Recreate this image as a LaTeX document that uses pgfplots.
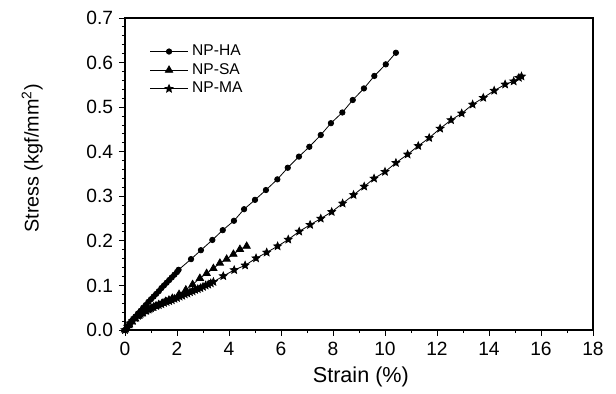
\documentclass[border=0pt]{standalone}
\usepackage{fontspec}
\setmainfont{Liberation Sans}
\usepackage{pgfplots}
\pgfplotsset{compat=1.18}
\pgfdeclareplotmark{fstar}{%
  \pgfpathmoveto{\pgfpointpolar{90}{\pgfplotmarksize}}%
  \pgfpathlineto{\pgfpointpolar{126}{0.45\pgfplotmarksize}}%
  \pgfpathlineto{\pgfpointpolar{162}{\pgfplotmarksize}}%
  \pgfpathlineto{\pgfpointpolar{198}{0.45\pgfplotmarksize}}%
  \pgfpathlineto{\pgfpointpolar{234}{\pgfplotmarksize}}%
  \pgfpathlineto{\pgfpointpolar{270}{0.45\pgfplotmarksize}}%
  \pgfpathlineto{\pgfpointpolar{306}{\pgfplotmarksize}}%
  \pgfpathlineto{\pgfpointpolar{342}{0.45\pgfplotmarksize}}%
  \pgfpathlineto{\pgfpointpolar{18}{\pgfplotmarksize}}%
  \pgfpathlineto{\pgfpointpolar{54}{0.45\pgfplotmarksize}}%
  \pgfpathclose\pgfusepathqfillstroke}
\begin{document}
\begin{tikzpicture}
\begin{axis}[
  scale only axis, width=234pt, height=156pt,
  xmin=0, xmax=18, ymin=0, ymax=0.7,
  xtick={0,2,...,18}, ytick={0,0.1,0.2,0.3,0.4,0.5,0.6,0.7},
  minor x tick num=1, minor y tick num=4,
  tick align=outside, xtick pos=bottom, ytick pos=left,
  major tick length=3pt, minor tick length=1.6pt,
  axis line style={line width=0.55pt}, tick style={line width=0.45pt, black},
  /pgf/number format/assume math mode=true,
  yticklabel style={/pgf/number format/fixed, /pgf/number format/fixed zerofill, /pgf/number format/precision=1, /tikz/xshift=0.6pt},
  xticklabel style={/pgf/number format/fixed, /tikz/yshift=0.5pt},
  tick label style={font=\fontsize{9.6}{11}\selectfont},
  xlabel={Strain (\%)}, ylabel={Stress (kgf/mm\textsuperscript{2})},
  xlabel style={at={(axis description cs:0.504,-0.151)}, anchor=center, font=\fontsize{10.8}{12}\selectfont},
  ylabel style={at={(axis description cs:-0.198,0.55)}, anchor=center, font=\fontsize{9.9}{12}\selectfont},
  legend style={at={(axis description cs:0.048,0.935)}, anchor=north west, draw=none, fill=none,
    font=\fontsize{7.8}{8}\selectfont, row sep=-1.6pt, inner sep=1pt},
  legend cell align=left,
  legend image code/.code={\draw[mark repeat=2,mark phase=2] plot coordinates {(0cm,0cm) (0.33cm,0cm) (0.66cm,0cm)};},
  every axis plot/.append style={black, line width=0.4pt},
]
\addplot[mark=*, mark size=1.35pt] coordinates {
(0,0) (0.1,0.008) (0.2,0.016) (0.3,0.023) (0.4,0.030) (0.5,0.037) (0.6,0.043) (0.7,0.050)
(0.8,0.056) (0.9,0.063) (1.0,0.069) (1.1,0.075) (1.2,0.081) (1.3,0.087) (1.4,0.094) (1.5,0.100)
(1.6,0.106) (1.7,0.112) (1.8,0.118) (1.9,0.124) (2.0,0.130) (2.06,0.135)
(2.54,0.159) (2.92,0.179) (3.36,0.202) (3.76,0.224) (4.19,0.245) (4.58,0.271) (5.0,0.292)
(5.42,0.314) (5.86,0.338) (6.26,0.364) (6.69,0.389) (7.09,0.411) (7.53,0.4375) (7.92,0.464)
(8.36,0.488) (8.76,0.516) (9.19,0.542) (9.59,0.570) (10.03,0.596) (10.42,0.622)
};
\addlegendentry{NP-HA}
\addplot[mark=triangle*, mark size=2.1pt] coordinates {
(0,0) (0.13,0.010) (0.26,0.018) (0.39,0.025) (0.52,0.031) (0.65,0.036) (0.78,0.041) (0.91,0.045)
(1.04,0.049) (1.17,0.053) (1.30,0.057) (1.43,0.060) (1.56,0.064) (1.69,0.067) (1.82,0.071)
(2.08,0.080) (2.34,0.090) (2.60,0.102) (2.88,0.116) (3.14,0.127) (3.40,0.138) (3.65,0.150)
(3.91,0.159) (4.17,0.170) (4.42,0.181) (4.68,0.188)
};
\addlegendentry{NP-SA}
\addplot[mark=fstar, mark size=2.0pt] coordinates {
(0,0) (0.1,0.008) (0.2,0.015) (0.3,0.021) (0.4,0.027) (0.5,0.032) (0.6,0.036) (0.7,0.040)
(0.8,0.043) (0.9,0.046) (1.0,0.049) (1.1,0.052) (1.2,0.054) (1.3,0.056) (1.4,0.058) (1.5,0.061)
(1.6,0.063) (1.7,0.065) (1.8,0.067) (1.9,0.070) (2.0,0.072) (2.1,0.075) (2.2,0.077) (2.3,0.080)
(2.4,0.082) (2.5,0.085) (2.6,0.087) (2.7,0.090) (2.8,0.092) (2.9,0.094) (3.0,0.097) (3.1,0.100)
(3.2,0.102) (3.3,0.105) (3.4,0.108)
(3.78,0.121) (4.20,0.1346) (4.62,0.145) (5.04,0.161) (5.45,0.174) (5.87,0.188) (6.28,0.203)
(6.70,0.221) (7.12,0.236) (7.53,0.250) (7.95,0.265) (8.37,0.284) (8.79,0.303) (9.20,0.322)
(9.58,0.340) (10.0,0.355) (10.42,0.375) (10.87,0.394) (11.28,0.413) (11.70,0.431) (12.12,0.452)
(12.54,0.471) (12.95,0.486) (13.37,0.506) (13.78,0.521) (14.20,0.537) (14.62,0.551)
(14.95,0.558) (15.15,0.566) (15.25,0.569)
};
\addlegendentry{NP-MA}
\end{axis}
\path[use as bounding box] (-62.5pt,-28.5pt) rectangle (245.5pt,165pt);
\end{tikzpicture}
\end{document}
